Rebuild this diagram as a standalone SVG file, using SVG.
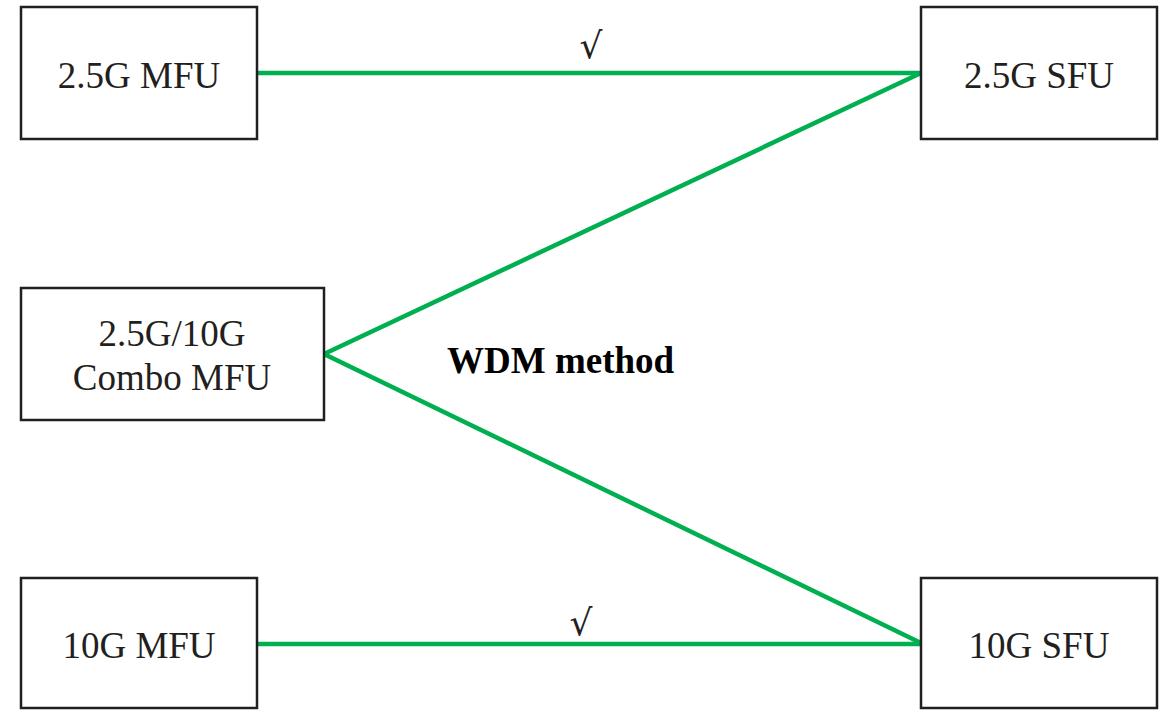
<svg xmlns="http://www.w3.org/2000/svg" width="1165" height="710" viewBox="0 0 1165 710">
<style>
.box{fill:#fff;stroke:#231f20;stroke-width:2.5}
.t{font-family:"Liberation Serif","Times New Roman",serif;font-size:37px;fill:#231f20;text-anchor:middle}
.c{fill:none;stroke:#00b050;stroke-width:4.5;stroke-linejoin:miter}
.lbl{font-family:"Liberation Serif","Times New Roman",serif;font-size:37px;fill:#000;font-weight:bold}
.chk{font-family:"DejaVu Serif",serif;font-size:36px;fill:#231f20;text-anchor:middle}
</style>
<rect width="1165" height="710" fill="#fff"/>
<g id="connectors">
<line class="c" x1="257" y1="73" x2="921" y2="73"/>
<line class="c" x1="257" y1="644" x2="921" y2="644"/>
<polyline class="c" points="921,73 324,354 921,643"/>
<text class="chk" x="591" y="58">√</text>
<text class="chk" x="581" y="635">√</text>
<text class="lbl" x="447" y="373">WDM method</text>
</g>
<g id="n1"><rect class="box" x="21" y="7" width="236" height="132"/><text class="t" x="139" y="88">2.5G MFU</text></g>
<g id="n2"><rect class="box" x="921" y="7" width="236" height="132"/><text class="t" x="1039" y="88">2.5G SFU</text></g>
<g id="n3"><rect class="box" x="21" y="288" width="303" height="132"/><text class="t" x="172" y="346">2.5G/10G</text><text class="t" x="172" y="390">Combo MFU</text></g>
<g id="n4"><rect class="box" x="21" y="578" width="236" height="130"/><text class="t" x="139" y="658">10G MFU</text></g>
<g id="n5"><rect class="box" x="921" y="578" width="236" height="130"/><text class="t" x="1039" y="658">10G SFU</text></g>
</svg>
